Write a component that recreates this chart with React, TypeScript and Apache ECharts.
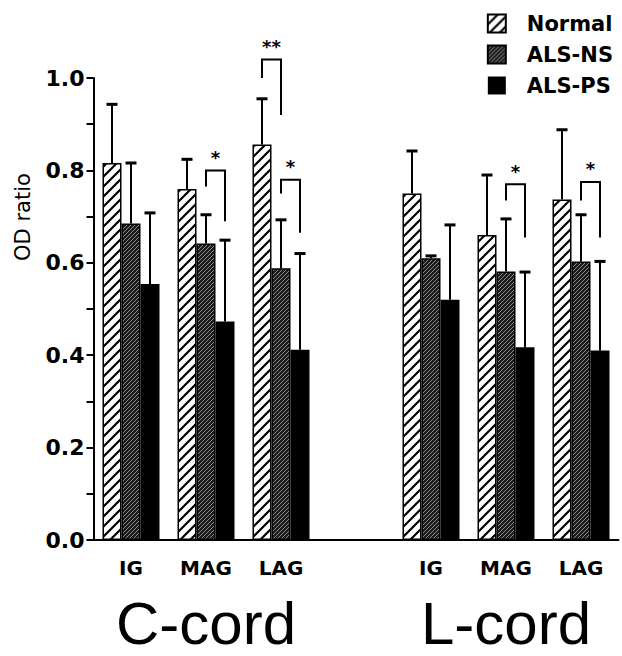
import React, { useEffect, useRef } from "react";
import * as echarts from "echarts";

// ---- data ----
const categories = ["IG", "MAG", "LAG", "", "IG", "MAG", "LAG"];
const regionLabels = ["", "C-cord", "", "", "", "L-cord", ""];
const seriesNames = ["Normal", "ALS-NS", "ALS-PS"];

const normalMean = [0.816, 0.76, 0.856, null, 0.75, 0.66, 0.737];
const normalErr = [0.127, 0.064, 0.099, null, 0.092, 0.13, 0.151];
const nsMean = [0.685, 0.642, 0.588, null, 0.61, 0.581, 0.603];
const nsErr = [0.131, 0.062, 0.105, null, 0.005, 0.114, 0.101];
const psMean = [0.554, 0.473, 0.412, null, 0.52, 0.417, 0.41];
const psErr = [0.154, 0.176, 0.208, null, 0.162, 0.163, 0.193];

// significance brackets
const bracketCat = [1, 2, 2, 5, 6];
const bracketFrom = [1, 0, 1, 1, 1];
const bracketTo = [2, 1, 2, 2, 2];
const bracketTop = [0.8, 1.04, 0.78, 0.77, 0.775];
const bracketLeftEnd = [0.765, 1.0, 0.75, 0.735, 0.735];
const bracketRightEnd = [0.69, 0.92, 0.665, 0.655, 0.655];
const bracketMark = ["*", "**", "*", "*", "*"];

const BAR_CAT_GAP = 0.24;

function stripe(size: number, bg: string, fg: string, lw: number) {
  const c = document.createElement("canvas");
  c.width = size;
  c.height = size;
  const g = c.getContext("2d")!;
  g.fillStyle = bg;
  g.fillRect(0, 0, size, size);
  g.strokeStyle = fg;
  g.lineWidth = lw;
  g.beginPath();
  g.moveTo(-1, size + 1);
  g.lineTo(size + 1, -1);
  g.moveTo(-2, 2);
  g.lineTo(2, -2);
  g.moveTo(size - 2, size + 2);
  g.lineTo(size + 2, size - 2);
  g.stroke();
  return c;
}

export default function App() {
  const ref = useRef<HTMLDivElement>(null);
  useEffect(() => {
    if (!ref.current) return;
    const chart = echarts.init(ref.current, null, { renderer: "svg" });
    const normalPat = { image: stripe(10, "#ffffff", "#000000", 2.2), repeat: "repeat" };
    const nsPat = { image: stripe(4, "#1c1c1c", "#8a8a8a", 1), repeat: "repeat" };
    const fills = [normalPat, nsPat, "#000000"];
    const means = [normalMean, nsMean, psMean];
    const errs = [normalErr, nsErr, psErr];

    const barW = (api: any) => (api.size([1, 0])[0] * (1 - BAR_CAT_GAP)) / 3;

    const bars = seriesNames.map((n, i) => ({
      name: n,
      type: "bar",
      data: means[i],
      barGap: "0%",
      barCategoryGap: BAR_CAT_GAP * 100 + "%",
      itemStyle: {
        color: fills[i] as any,
        borderColor: "#000",
        borderWidth: i === 2 ? 0 : 1.5,
      },
      z: 2,
    }));

    const errSeries = seriesNames.map((n, si) => ({
      type: "custom",
      name: n + "-err",
      z: 4,
      silent: true,
      encode: { x: 0, y: 1 },
      data: means[si]
        .map((m, i) => (m == null ? null : [i, m, errs[si][i]]))
        .filter((d) => d !== null),
      renderItem: (params: any, api: any) => {
        const x = api.value(0);
        const m = api.value(1);
        const e = api.value(2);
        const bw = barW(api);
        const base = api.coord([x, m]);
        const top = api.coord([x, m + e]);
        const cx = base[0] + (si - 1) * bw;
        return {
          type: "group",
          children: [
            { type: "line", shape: { x1: cx, y1: base[1], x2: cx, y2: top[1] }, style: { stroke: "#000", lineWidth: 2 } },
            { type: "line", shape: { x1: cx - 5.5, y1: top[1], x2: cx + 5.5, y2: top[1] }, style: { stroke: "#000", lineWidth: 3 } },
          ],
        };
      },
    }));

    const bracketData = bracketCat.map((c, i) => [c, bracketFrom[i], bracketTo[i], bracketTop[i], bracketLeftEnd[i], bracketRightEnd[i]]);
    const bracketSeries = {
      type: "custom",
      name: "brackets",
      z: 5,
      silent: true,
      encode: { x: 0, y: 3 },
      data: bracketData,
      renderItem: (params: any, api: any) => {
        const cat = api.value(0);
        const f = api.value(1);
        const t = api.value(2);
        const bw = barW(api);
        const top = api.coord([cat, api.value(3)]);
        const le = api.coord([cat, api.value(4)]);
        const re = api.coord([cat, api.value(5)]);
        const xl = top[0] + (f - 1) * bw;
        const xr = top[0] + (t - 1) * bw;
        return {
          type: "group",
          children: [
            {
              type: "polyline",
              shape: { points: [[xl, le[1]], [xl, top[1]], [xr, top[1]], [xr, re[1]]] },
              style: { stroke: "#000", lineWidth: 2, fill: null },
            },
            {
              type: "text",
              x: (xl + xr) / 2,
              y: top[1] - 4,
              style: {
                text: bracketMark[params.dataIndex],
                fontSize: 18,
                fontWeight: "bold",
                fontFamily: "DejaVu Sans",
                align: "center",
                verticalAlign: "bottom",
                fill: "#000",
              },
            },
          ],
        };
      },
    };

    chart.setOption({
      animation: false,
      grid: { left: 93.5, right: 3.5, top: 78, bottom: 116, containLabel: false },
      legend: {
        data: seriesNames,
        orient: "vertical",
        right: 4,
        top: 8,
        itemWidth: 18,
        itemHeight: 18,
        itemGap: 10,
        icon: "rect",
        textStyle: { fontSize: 21, fontWeight: "bold", fontFamily: "DejaVu Sans", color: "#000", padding: [0, 0, 0, 16] },
      },
      xAxis: [
        {
          type: "category",
          data: categories,
          axisLine: { show: true, lineStyle: { color: "#000", width: 2 } },
          axisTick: { show: false },
          axisLabel: { interval: 0, fontSize: 20, fontWeight: "bold", fontFamily: "DejaVu Sans", color: "#000", margin: 18 },
        },
        {
          type: "category",
          data: regionLabels,
          position: "bottom",
          offset: 53,
          axisLine: { show: false },
          axisTick: { show: false },
          axisLabel: { interval: 0, fontSize: 60, fontFamily: "Liberation Sans", color: "#000", margin: 0 },
        },
      ],
      yAxis: {
        type: "value",
        min: 0,
        max: 1,
        interval: 0.1,
        name: "OD ratio",
        nameLocation: "middle",
        nameGap: 60,
        nameTextStyle: { fontSize: 21, fontFamily: "DejaVu Sans", color: "#000", padding: [0, 0, 0, 184] },
        axisLine: { show: true, lineStyle: { color: "#000", width: 2 } },
        axisTick: { show: true, length: 7, lineStyle: { color: "#000", width: 2 } },
        splitLine: { show: false },
        axisLabel: {
          margin: 9,
          fontSize: 22,
          fontWeight: "bold",
          fontFamily: "DejaVu Sans",
          color: "#000",
          formatter: (v: number) => (Math.round(v * 10) % 2 === 0 ? v.toFixed(1) : ""),
        },
      },
      series: [...bars, ...errSeries, bracketSeries],
    } as any);
    return () => chart.dispose();
  }, []);
  return <div ref={ref} style={{ position: "absolute", left: 0, top: 0, width: 622, height: 656 }} />;
}
